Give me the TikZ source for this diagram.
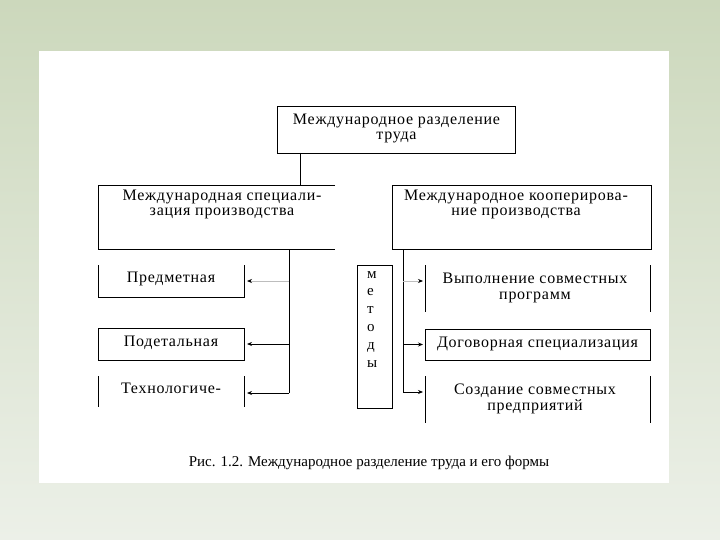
\documentclass[tikz,border=0pt]{standalone}
\usepackage{fontspec}
\setmainfont{Liberation Serif}
\newfontfamily\bxfont[LetterSpace=4.5]{Liberation Serif}
\usetikzlibrary{arrows.meta}
\definecolor{bgtop}{HTML}{CCD8BC}
\definecolor{bgbot}{HTML}{ECF0E8}
\definecolor{lightln}{HTML}{BDBDBD}
\tikzset{
  boxshape/.style={rectangle, inner sep=0pt, outer sep=0pt},
  txt/.style={inner sep=0pt, outer sep=0pt, align=center, font=\bxfont\fontsize{16}{15.5}\selectfont},
  edge/.style={line width=0.8pt, black},
  conn/.style={line width=0.8pt, black, -{Stealth[length=5pt,width=4pt]}},
  lconn/.style={line width=0.8pt, lightln, -{Stealth[length=5pt,width=4pt,color=black]}}
}
\begin{document}
\begin{tikzpicture}[x=1pt,y=-1pt]
\useasboundingbox (0,0) rectangle (720,540);
\shade[top color=bgtop, bottom color=bgbot] (0,0) rectangle (720,540);
\fill[white] (39,51) rectangle (669,483);

% boxes
\node[boxshape, minimum width=238pt, minimum height=47pt] (top) at (396.5,129.5) {};
\node[boxshape, minimum width=237pt, minimum height=64pt] (lspec) at (216.5,217) {};
\node[boxshape, minimum width=259pt, minimum height=64pt] (rcoop) at (521.5,217) {};
\node[boxshape, minimum width=146pt, minimum height=32pt] (pred) at (171,281) {};
\node[boxshape, minimum width=146pt, minimum height=32pt] (podet) at (171,344) {};
\node[boxshape, minimum width=146pt, minimum height=31pt] (tech) at (171,391.5) {};
\node[boxshape, minimum width=35pt, minimum height=143pt] (met) at (374.5,336.5) {};
\node[boxshape, minimum width=225pt, minimum height=47pt] (vyp) at (537.5,288.5) {};
\node[boxshape, minimum width=225pt, minimum height=31pt] (dog) at (537.5,344.5) {};
\node[boxshape, minimum width=225pt, minimum height=47pt] (sozd) at (537.5,399.5) {};

% borders
\draw[edge] (top.south west) rectangle (top.north east);
\draw[edge] (lspec.north east) -- (lspec.north west) -- (lspec.south west) -- (lspec.south east);
\draw[edge] (rcoop.south west) rectangle (rcoop.north east);
\draw[edge] (pred.north west) -- (pred.south west) -- (pred.south east) -- (pred.north east);
\draw[edge] (podet.south west) rectangle (podet.north east);
\draw[edge] (tech.north west) -- (tech.south west) (tech.north east) -- (tech.south east);
\draw[edge] (met.south west) rectangle (met.north east);
\draw[edge] (vyp.north west) -- (vyp.south west) (vyp.north east) -- (vyp.south east);
\draw[edge] (dog.south west) rectangle (dog.north east);
\draw[edge] (sozd.north west) -- (sozd.south west) (sozd.north east) -- (sozd.south east);

% texts
\node[txt] (ttop) at (396.5,128.5) {Международное разделение\\труда};
\node[txt, anchor=north] (tlspec) at (222,190) {Международная специали-\\зация производства};
\node[txt, anchor=north] (trcoop) at (516,190) {Международное кооперирова-\\ние производства};
\node[txt] (tpred) at (171,279) {Предметная};
\node[txt] (tpodet) at (171,343) {Подетальная};
\node[txt] (ttech) at (171,388) {Технологиче-};
\node[inner sep=0pt, align=left, font=\fontsize{15}{17.8}\selectfont, anchor=north west] (tmet) at (367,271) {м\\е\\т\\о\\д\\ы};
\node[txt] (tvyp) at (535,288) {Выполнение совместных\\программ};
\node[txt] (tdog) at (537.5,344) {Договорная специализация};
\node[txt] (tsozd) at (535,399) {Создание совместных\\предприятий};
\node[inner sep=0pt, font=\fontsize{15}{15}\selectfont] (cap) at (369,463) {Рис. 1.2. Международное разделение труда и его формы};

% connector anchor points
\coordinate (lb) at ([xshift=191pt]lspec.south west);
\coordinate (rb) at ([xshift=11pt]rcoop.south west);
\coordinate (vypin) at ([yshift=7.5pt,xshift=-2pt]vyp.west);
\coordinate (dogin) at ([xshift=-2pt]dog.west);
\coordinate (sozdin) at ([yshift=7.5pt,xshift=-2pt]sozd.west);
\coordinate (predin) at ([xshift=3pt]pred.east);
\coordinate (podin) at ([xshift=3pt]podet.east);
\coordinate (techin) at ([xshift=3pt,yshift=-1.5pt]tech.east);

% connectors
\draw[edge] ([xshift=23pt]top.south west) -- ([xshift=23pt]top.south west |- lspec.north);
\draw[edge] (lb) -- (lb |- techin);
\draw[lconn] (lb |- predin) -- (predin);
\draw[conn] (lb |- podin) -- (podin);
\draw[conn] (lb |- techin) -- (techin);
\draw[edge] (rb) -- (rb |- sozdin);
\draw[lconn] (rb |- vypin) -- (vypin);
\draw[conn] (rb |- dogin) -- (dogin);
\draw[conn] (rb |- sozdin) -- (sozdin);
\end{tikzpicture}
\end{document}
